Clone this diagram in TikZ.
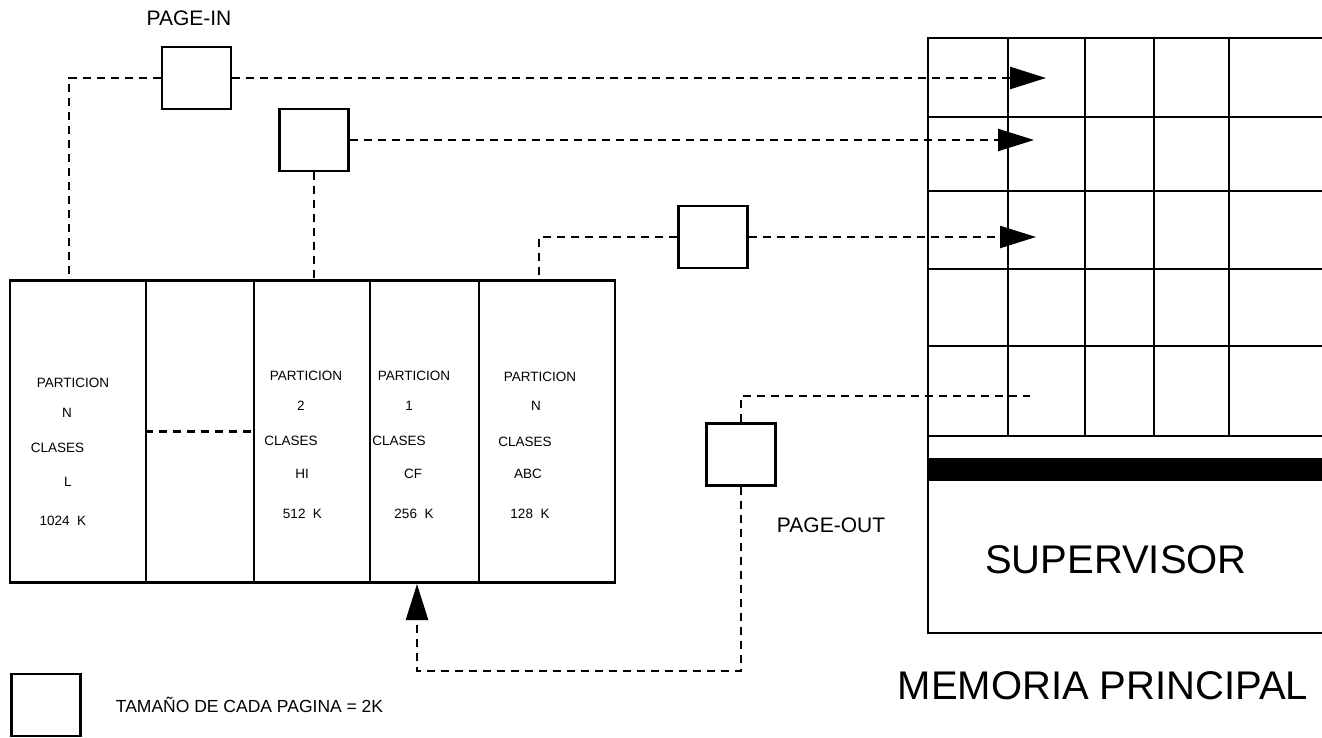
\documentclass[tikz,border=0pt]{standalone}
\usepackage{fontspec}
\setmainfont{Liberation Sans}
\usetikzlibrary{arrows.meta}
\usetikzlibrary{positioning}
\usetikzlibrary{calc}

\begin{document}
\begin{tikzpicture}[x=1pt,y=-1pt]
			\tikzstyle{pagina}=[draw,line width=2.4pt,minimum width=69pt,minimum height=62pt,inner sep=0pt]
			\tikzstyle{particion}=[draw,line width=2.4pt,minimum height=302pt,inner sep=0pt]
			\tikzstyle{dato}=[inner sep=0pt,font=\fontsize{13.5}{16}\selectfont]
			\tikzstyle{rotulo}=[inner sep=0pt,font=\fontsize{21}{25}\selectfont]
			\tikzstyle{grande}=[inner sep=0pt,font=\fontsize{40}{48}\selectfont]
			\tikzstyle{conector}=[line width=2.4pt,dash pattern=on 8pt off 6pt]
			\tikzstyle{flecha}=[-{Triangle[length=36pt,width=22pt]}]

			\useasboundingbox (0,0) rectangle (1322,738);

			% particiones
			\node (c1) [particion,minimum width=136pt] at (78,431.5) {};
			\node (c2) [particion,minimum width=108pt] at (200,431.5) {};
			\node (c3) [particion,minimum width=116pt] at (312,431.5) {};
			\node (c4) [particion,minimum width=109pt] at (424.5,431.5) {};
			\node (c5) [particion,minimum width=136pt] at (547,431.5) {};
			\draw[conector] (c2.west) -- (c2.east);

			\node (c1a) [dato] at (73,383) {PARTICION};
			\node (c1b) [dato] at (67,413) {N};
			\node (c1c) [dato] at (57.5,448) {CLASES};
			\node (c1d) [dato] at (68,482) {L};
			\node (c1e) [dato] at (63,521) {1024\ \ K};

			\node (c3a) [dato] at (306,376) {PARTICION};
			\node (c3b) [dato] at (301,406) {2};
			\node (c3c) [dato] at (291,441) {CLASES};
			\node (c3d) [dato] at (302,474) {HI};
			\node (c3e) [dato] at (302.5,514) {512\ \ K};

			\node (c4a) [dato] at (414,376) {PARTICION};
			\node (c4b) [dato] at (409,406) {1};
			\node (c4c) [dato] at (399,441) {CLASES};
			\node (c4d) [dato] at (413,474) {CF};
			\node (c4e) [dato] at (414,514) {256\ \ K};

			\node (c5a) [dato] at (540,377) {PARTICION};
			\node (c5b) [dato] at (536,406) {N};
			\node (c5c) [dato] at (525,442) {CLASES};
			\node (c5d) [dato] at (528,474) {ABC};
			\node (c5e) [dato] at (530,514) {128\ \ K};

			% memoria principal
			\draw[line width=2.4pt] (1322,38) -- (928,38) -- (928,633) -- (1322,633);
			\foreach \y in {117,191,269,346,436}
				\draw[line width=2.4pt] (928,\y) -- (1322,\y);
			\foreach \x in {1008,1085,1154,1229}
				\draw[line width=2.4pt] (\x,38) -- (\x,436);
			\fill (928,458) rectangle (1322,481);
			\node (super) [grande] at (1116,560) {SUPERVISOR};
			\node (memoria) [grande] at (1103,686) {MEMORIA PRINCIPAL};

			\coordinate (fila1) at (1046,78);
			\coordinate (fila2) at (1034,140);
			\coordinate (fila3) at (1036,237);
			\coordinate (salida) at (1030,396);
			\coordinate (retorno) at (417,671);
			\coordinate (entrada) at (417,584);

			% paginas
			\node (pin) [pagina] at (196.5,78) {};
			\node (p2) [pagina] at (314,140) {};
			\node (p3) [pagina] at (713,237) {};
			\node (pout) [pagina] at (741,454.5) {};
			\node (leyenda) [pagina] at (46,705) {};

			\node (etiqin) [rotulo] at (189,18) {PAGE-IN};
			\node (etiqout) [rotulo] at (831,525) {PAGE-OUT};
			\node (tamano) [right=34pt of leyenda,inner sep=0pt,font=\fontsize{17.5}{21}\selectfont] {TAMAÑO DE CADA PAGINA = 2K};

			\draw[conector] (pin.west) -| ([xshift=-9pt]c1.north);
			\draw[conector] (p2.south) -- (p2.south |- c3.north);
			\draw[conector] (p3.west) -| ([xshift=-8pt]c5.north);
			\draw[conector] (pout.north) |- (salida);
			\draw[conector,flecha] (pin.east) -- (fila1);
			\draw[conector,flecha] (p2.east) -- (fila2);
			\draw[conector,flecha] (p3.east) -- (fila3);
			\draw[conector,flecha] (pout.south) |- (retorno) -- (entrada);

		\end{tikzpicture}
\end{document}
